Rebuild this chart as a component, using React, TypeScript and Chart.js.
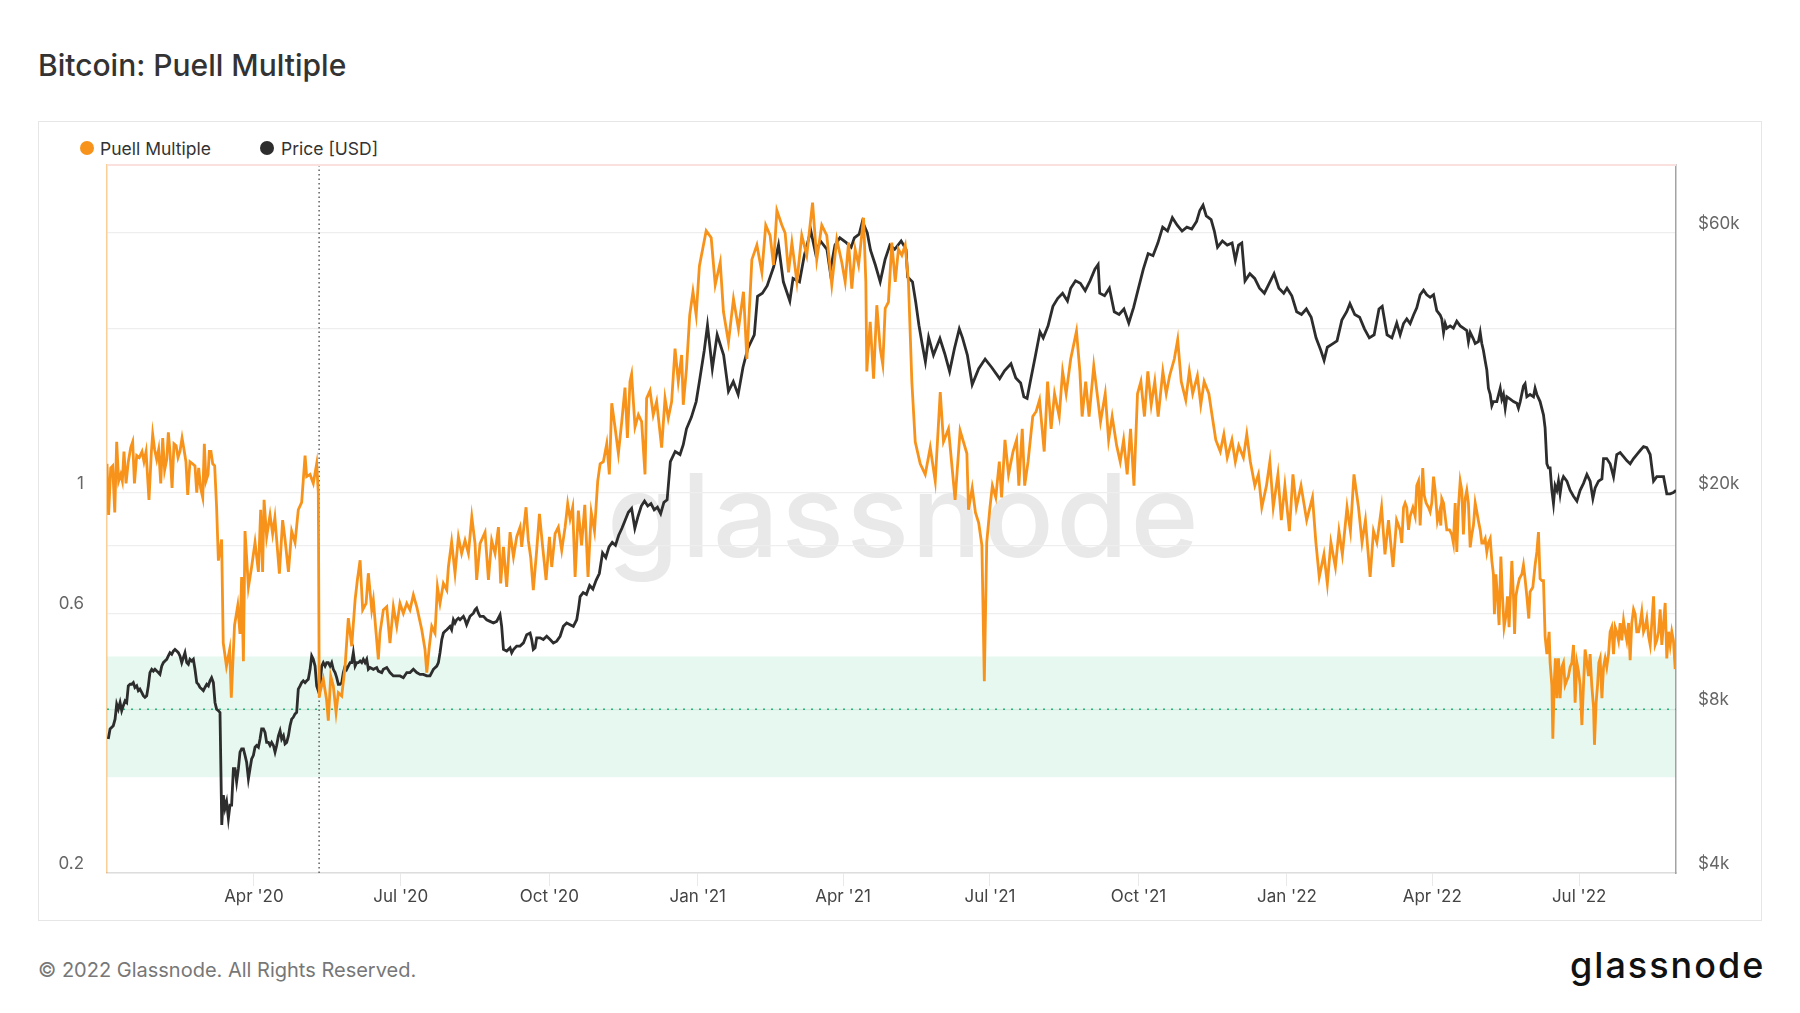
import React, { useEffect, useRef } from "react";
import { Chart, registerables } from "chart.js";

Chart.register(...registerables);

// ---- axis / annotation values ----
const tickDays = [91, 182, 274, 366, 456, 547, 639, 731, 821, 912];
const tickLabels = ["Apr '20", "Jul '20", "Oct '20", "Jan '21", "Apr '21", "Jul '21", "Oct '21", "Jan '22", "Apr '22", "Jul '22"];
const puellGridTicks = [0.2, 0.4, 0.6, 0.8, 1, 2, 3];
const puellLabelledTicks = [0.2, 0.6, 1];
const priceTicks = [4000, 8000, 20000, 60000];
const halvingDay = 131.4; // 11 May 2020
const bandLow = 0.3;
const bandHigh = 0.5;
const bandMid = 0.4;
const lastDay = 972;

// ---- Puell Multiple: [days since 1 Jan 2020, value] ----
const puellSeries: [number, number][] = [
  [0, 1.13], [1, 0.91], [2.3, 1.11], [3.5, 1.12], [4.8, 0.92], [6, 1.24], [7.2, 1.05], [8.5, 1.08], [9.5, 1.05], [10.5, 1.19],
  [11.8, 1.04], [13.2, 1.14], [14.7, 1.21], [15.9, 1.24], [17, 1.04], [18.4, 1.17], [20, 1.16], [21.7, 1.19], [22.9, 1.14], [24.2, 1.19],
  [26, 0.97], [27.5, 1.19], [28.3, 1.28], [29.5, 1.2], [30.8, 1.15], [32, 1.2], [33.3, 1.04], [34.5, 1.26], [35.7, 1.1], [37, 1.15],
  [38, 1.29], [39, 1.19], [40.3, 1.02], [41.5, 1.23], [42.8, 1.22], [44, 1.16], [45.2, 1.19], [46.5, 1.26], [47.7, 1.2], [48.9, 1.14],
  [50, 0.99], [51.4, 1.14], [53, 1.13], [54.5, 1.12], [55.6, 1.0], [56.8, 1.11], [58, 1.02], [59.3, 0.98], [60.3, 1.23], [61.3, 1.05],
  [62.6, 1.08], [63.4, 1.19], [64.4, 1.19], [65.5, 1.13], [66.7, 1.12], [67.9, 0.94],
  [69, 0.75], [71, 0.82], [72, 0.53], [74, 0.48], [76, 0.515], [77, 0.42], [79, 0.57], [81, 0.62], [82.4, 0.55], [83.4, 0.7],
  [84.5, 0.49], [85.5, 0.85], [87.6, 0.67], [89.6, 0.73], [91.7, 0.81], [93.8, 0.715], [95.2, 0.93], [96.4, 0.715], [97.3, 0.97], [98.9, 0.83],
  [101, 0.91], [102.6, 0.84], [104, 0.9], [106.8, 0.71], [108.8, 0.89], [110.3, 0.82], [112.4, 0.715], [114.4, 0.85], [116.5, 0.81], [118.5, 0.93],
  [120.6, 0.96], [122.7, 1.17], [123.7, 1.07], [125.8, 1.08], [127.8, 1.04], [129.9, 1.13], [130.9, 1.0], [131.5, 0.42],
  [132, 0.43], [134, 0.454], [136, 0.417], [137.1, 0.381], [138.6, 0.46], [140.2, 0.441], [141.9, 0.395], [143.3, 0.429], [145.4, 0.423], [147.5, 0.48],
  [149.5, 0.588], [151.6, 0.522], [153.7, 0.635], [155.1, 0.691], [156.8, 0.751], [158.4, 0.609], [160.5, 0.626], [161.9, 0.711], [164, 0.609], [165, 0.635],
  [166.7, 0.552], [168.1, 0.494], [169.1, 0.552], [171.2, 0.609], [173.3, 0.617], [175.3, 0.529], [177.4, 0.617], [179.5, 0.568], [181.5, 0.626], [183.6, 0.6],
  [185.7, 0.626], [187.7, 0.609], [189.8, 0.649], [191.9, 0.617], [195, 0.56], [197, 0.515], [198.1, 0.467], [199.7, 0.522], [201.2, 0.568], [203.2, 0.552],
  [204.7, 0.671], [206.3, 0.626], [208.4, 0.681], [210.5, 0.662], [211.5, 0.73], [213.5, 0.812], [215.6, 0.711], [217.7, 0.829], [219.7, 0.773], [221.8, 0.817],
  [223.9, 0.773], [226, 0.902], [228, 0.806], [229, 0.691], [231.1, 0.806], [234.2, 0.846], [236.3, 0.691], [238.3, 0.817], [240.4, 0.773], [242.5, 0.864],
  [243.9, 0.681], [245.6, 0.795], [247.6, 0.671], [249.7, 0.846], [251.8, 0.762], [253.8, 0.829], [255.9, 0.864], [256.9, 0.795], [259.6, 0.94], [261, 0.817],
  [262.5, 0.76], [264.1, 0.662], [266.2, 0.784], [267.9, 0.914], [269.9, 0.795], [272, 0.691], [274.1, 0.829], [275.5, 0.73], [277.6, 0.841], [279.6, 0.864],
  [281.7, 0.784], [283.8, 0.864], [285.4, 0.954], [286.9, 0.895], [288.5, 0.94], [290, 0.7], [292, 0.927],
  [294, 0.8], [296, 0.95], [298, 0.7], [300, 0.92], [302, 0.85], [304, 1.05], [305.5, 1.13], [307.5, 1.14], [309.6, 1.23], [311.2, 1.08],
  [312.7, 1.46], [314.7, 1.32], [316.8, 1.18], [318.9, 1.35], [320.9, 1.56], [322.4, 1.26], [324, 1.6], [325, 1.65], [327.1, 1.32], [329.2, 1.39],
  [331.2, 1.35], [333.3, 1.08], [334.3, 1.49], [336.4, 1.54], [338.4, 1.39], [340.5, 1.47], [343.6, 1.21], [345.7, 1.49], [347.7, 1.37], [349.8, 1.47],
  [351.9, 1.84], [353.9, 1.6], [356, 1.79], [357, 1.45], [359, 1.69], [361, 2.12], [363, 2.34], [365, 2.12], [367, 2.61],
  [371.2, 3.03], [374.3, 2.94], [376.8, 2.41], [379.9, 2.65], [381.9, 2.15], [385, 1.89], [388.1, 2.27], [391.2, 2.0], [394.3, 2.34], [396.4, 1.76],
  [399.5, 2.68], [402.6, 2.85], [405.7, 2.54], [408.1, 3.1], [410.8, 2.97], [412.9, 2.62], [415, 3.3], [418.1, 3.1], [420.1, 3.0], [422.2, 2.54],
  [424.3, 2.88], [427.4, 2.44], [430.4, 2.97], [433.5, 2.73], [437.1, 3.41], [439.7, 2.68], [442.8, 3.1], [445.9, 2.97], [449, 2.41], [452.1, 2.92],
  [455.2, 2.65], [457.3, 2.44], [459.4, 2.88], [461.4, 2.37], [463.5, 2.8], [465.6, 2.62], [468.7, 3.2], [470.1, 2.44], [470.7, 1.67], [472.8, 2.06],
  [474.9, 1.62], [476.9, 2.21], [479, 1.84], [480.6, 1.72], [482.1, 2.18], [484.1, 2.24], [486.2, 2.88], [488.3, 2.44], [490.3, 2.8], [492.4, 2.73],
  [494.5, 2.85], [496.5, 2.44], [498.6, 1.6], [500.7, 1.24], [503.8, 1.13], [506.9, 1.08], [510, 1.21], [513.1, 1.05], [516.2, 1.53], [518.2, 1.24],
  [521.3, 1.31], [525.4, 0.97], [528.5, 1.3], [532.7, 1.18], [533.7, 0.93], [536, 1.02], [538, 0.92], [540, 0.88], [542, 0.8], [543.5, 0.45],
  [545, 0.81], [547, 0.94], [548.5, 1.03], [550.6, 0.98],
  [552.8, 1.14], [554.2, 0.98], [556.3, 1.25], [558.5, 1.08], [561.3, 1.19], [563.5, 1.25], [564.9, 1.03], [567, 1.31], [568.5, 1.03], [570.6, 1.14],
  [573.5, 1.38], [575.6, 1.41], [577.7, 1.48], [580.6, 1.19], [582.7, 1.6], [584.9, 1.31], [587, 1.52], [589.9, 1.38], [592, 1.67], [594.2, 1.52],
  [597, 1.76], [600.6, 1.98], [602.7, 1.67], [604.1, 1.38], [606.3, 1.6], [608.4, 1.38], [611.3, 1.71], [613.4, 1.52], [615.5, 1.35], [618.4, 1.52],
  [620.5, 1.25], [622.7, 1.38], [625.5, 1.22], [627.7, 1.14], [629.8, 1.25], [632, 1.08], [634.1, 1.31], [636.2, 1.03], [638.4, 1.52], [640.5, 1.6],
  [642.7, 1.38], [644.8, 1.67], [646.9, 1.45], [649.1, 1.6], [651.2, 1.38], [654.1, 1.67], [656.2, 1.52], [658.3, 1.64], [661.2, 1.76], [663.3, 1.91],
  [665.5, 1.6], [668.3, 1.48], [670.5, 1.67], [672.6, 1.52], [675.5, 1.64], [677.6, 1.45], [679.7, 1.6], [682.6, 1.52], [684.7, 1.38], [686.9, 1.25],
  [689.7, 1.19], [691.9, 1.28], [694, 1.16], [696.9, 1.25], [699, 1.14], [701.1, 1.22], [704, 1.16], [706.1, 1.28], [708.3, 1.14], [711.1, 1.03],
  [713.3, 1.08], [715.4, 0.94], [718.3, 1.03], [720.4, 1.14], [722.5, 0.94], [725.4, 1.08], [727.5, 0.89], [729.7, 1.03], [732.5, 0.85], [734.7, 1.08],
  [736.8, 0.94], [739.7, 1.03], [743.2, 0.89], [746.8, 0.98], [748.9, 0.81], [751, 0.7], [753.9, 0.77], [756, 0.68], [758.2, 0.81], [761, 0.73],
  [763.2, 0.85], [765.3, 0.77], [768.2, 0.94], [770.3, 0.85], [772.5, 1.08], [775.3, 0.94], [777.5, 0.81], [779.6, 0.89], [782.5, 0.7], [784.6, 0.85],
  [786.7, 0.81], [789.6, 0.94], [791.7, 0.77], [793.9, 0.89], [796.7, 0.73], [798.9, 0.89],
  [801.1, 0.854], [802.1, 0.808], [803.2, 0.939], [804.2, 0.957], [805.2, 0.939], [806.3, 0.854], [807.3, 0.905], [809, 0.939], [810.4, 0.905], [811.4, 1.03],
  [812.5, 1.05], [813.5, 0.87], [814.5, 1.01], [815.1, 1.11], [816, 0.99], [817.2, 0.957], [818.7, 0.939], [819.7, 0.922], [820.7, 0.957], [821.8, 1.07],
  [822.8, 1.01], [824.2, 0.887], [825.5, 0.922], [826.3, 0.87], [826.9, 0.975], [828, 0.957], [830, 0.854], [831.7, 0.854], [833.1, 0.838], [834.1, 0.808],
  [835.2, 0.957], [836.2, 0.778], [837.2, 0.939], [838.3, 1.05], [839.3, 1.01], [840.3, 0.838], [841.4, 0.975], [842.4, 1.01], [843.4, 0.957], [844.5, 0.793],
  [845.5, 0.838], [846.5, 0.87], [847.6, 0.957], [848.6, 0.922], [849.6, 0.887], [850.7, 0.854], [851.7, 0.808], [852.7, 0.808], [853.8, 0.823], [854.8, 0.778],
  [855.8, 0.808], [856.9, 0.823], [857.9, 0.75], [858.9, 0.708], [859.5, 0.598], [860.4, 0.708], [861.4, 0.645], [862.4, 0.571], [863.5, 0.763], [864.5, 0.645],
  [865.5, 0.566], [866.8, 0.598], [867.6, 0.645], [868.6, 0.566], [870.3, 0.749], [871.3, 0.645], [872, 0.55], [872.8, 0.645], [873.8, 0.67], [875, 0.695],
  [876.5, 0.708], [877.5, 0.736], [878.5, 0.695], [879.6, 0.645], [880.8, 0.587], [881.6, 0.657], [883.3, 0.67], [884.7, 0.736], [885.8, 0.778], [886.8, 0.846],
  [887.8, 0.695], [888.9, 0.689], [889.9, 0.689], [890.9, 0.545], [892, 0.505], [893.4, 0.555], [894, 0.487], [895.1, 0.443], [895.7, 0.353], [896.5, 0.443],
  [897.3, 0.496], [898.2, 0.419], [899.2, 0.496], [900.2, 0.419], [901.3, 0.478], [902.3, 0.487], [903.3, 0.443], [904.4, 0.452], [905.4, 0.46], [906.4, 0.478],
  [907.5, 0.487], [908.5, 0.525], [909.5, 0.411], [910.6, 0.487], [911.6, 0.469], [912.6, 0.443], [913.7, 0.374], [914.7, 0.443], [915.7, 0.515], [916.8, 0.487],
  [917.8, 0.46], [918.8, 0.505], [919.8, 0.443], [920.9, 0.404], [921.5, 0.344], [922.5, 0.411], [923.4, 0.443], [924.2, 0.487], [925, 0.496], [926.1, 0.419],
  [927.1, 0.478], [928.1, 0.496], [929.1, 0.478], [930.2, 0.505], [931.2, 0.555], [932.2, 0.566], [933.3, 0.505], [934.3, 0.566], [935.3, 0.555], [936.4, 0.535],
  [937.4, 0.576], [938.4, 0.535], [939.5, 0.582], [940.5, 0.555], [941.5, 0.535], [942.6, 0.576], [943.6, 0.492], [944.6, 0.576], [945.7, 0.61], [946.7, 0.598],
  [947.7, 0.555], [948.8, 0.555], [949.8, 0.576], [950.8, 0.604], [951.9, 0.555], [952.9, 0.566], [953.9, 0.587], [955, 0.545], [956, 0.525], [957, 0.576],
  [958.1, 0.645], [959.1, 0.525], [960.1, 0.535], [961.2, 0.555], [962.2, 0.61], [963.2, 0.525], [964.3, 0.576], [965.3, 0.627], [966.3, 0.496], [967.4, 0.555],
  [968.4, 0.525], [969.4, 0.555], [970.4, 0.535], [971.5, 0.474],
];

// ---- BTC price in thousand USD: [days since 1 Jan 2020, price k$] ----
const priceSeriesK: [number, number][] = [
  [0.8, 7.05], [1.9, 7.36], [3.9, 7.46], [5, 7.67], [6, 8.17], [7, 8.0], [8.1, 8.23], [9.1, 7.95], [10.1, 8.12], [11.2, 8.29],
  [12.2, 8.23], [13.2, 8.83], [14.3, 8.89], [15.3, 8.89], [16.3, 8.95], [17.3, 8.77], [18.4, 8.83], [19.4, 8.65], [20.4, 8.71], [21.5, 8.59],
  [22.5, 8.47], [23.5, 8.41], [24.6, 8.47], [25.6, 8.83], [26.6, 9.34], [27.7, 9.47], [28.7, 9.4], [29.7, 9.47], [30.8, 9.4], [31.8, 9.34],
  [32.8, 9.27], [33.9, 9.6], [34.9, 9.74], [35.9, 9.81], [37, 9.88], [38, 10.02], [39, 10.16], [40.1, 10.09], [41.1, 10.23], [42.1, 10.3],
  [43.2, 10.23], [44.2, 10.16], [45.2, 10.02], [46.3, 9.74], [47.3, 9.95], [48.3, 10.16], [49.4, 9.74], [50.4, 9.67], [51.4, 9.88], [52.5, 9.81],
  [53.5, 9.88], [54.5, 9.47], [55.6, 8.95], [56.6, 8.89], [57.6, 8.77], [58.7, 8.71], [59.7, 8.65], [60.7, 8.77], [61.8, 8.89], [62.8, 8.83],
  [63.8, 9.02], [64.8, 9.14], [65.9, 8.95], [66.9, 8.23], [67.9, 8.0], [69, 7.95], [70, 7.89], [71.1, 4.9], [72.1, 5.56], [73.1, 5.26],
  [74.1, 5.41], [75.2, 5.04], [76.2, 5.33], [77.2, 5.33], [78.3, 6.22], [79.3, 6.22], [80.3, 5.88], [81.4, 6.22], [82.4, 6.67], [83.4, 6.76],
  [84.5, 6.76], [85.5, 6.58], [86.5, 6.39], [87.6, 5.96], [88.6, 6.22], [89.6, 6.48], [90.7, 6.58], [91.7, 6.81], [92.7, 6.86], [93.8, 6.81],
  [94.8, 7.05], [95.8, 7.36], [96.9, 7.36], [97.9, 7.25], [98.9, 6.95], [100, 6.95], [101, 6.86], [102, 6.95], [103.1, 6.86], [104.1, 6.67],
  [105.1, 6.86], [106.2, 7.15], [107.2, 7.3], [108.2, 7.05], [109.3, 7.15], [110.3, 6.91], [111.3, 6.95], [112.4, 7.15], [113.4, 7.46], [114.4, 7.67],
  [115.4, 7.73], [116.5, 7.84], [117.5, 7.89], [118.5, 8.71], [119.6, 8.83], [120.6, 8.95], [121.6, 9.02], [122.7, 8.95], [123.7, 9.02], [124.7, 9.08],
  [125.8, 9.47], [126.8, 10.02], [127.8, 9.88], [128.9, 9.6], [129.9, 8.83], [130.9, 8.65], [132, 8.83], [133, 9.6], [134, 9.74], [135.1, 9.6],
  [136.1, 9.74], [137.1, 9.74], [138.2, 9.6], [139.2, 9.74], [140.2, 9.47], [141.3, 9.34], [142.3, 9.14], [143.3, 8.89], [144.4, 8.89], [145.4, 8.95],
  [146.4, 9.34], [147.5, 9.6], [148.5, 9.47], [149.5, 9.6], [150.6, 9.74], [151.6, 9.74], [152.6, 10.16], [153.7, 9.6], [154.7, 9.74], [155.7, 9.74],
  [156.8, 9.81], [157.8, 9.74], [158.8, 9.88], [159.9, 9.74], [160.9, 9.88], [161.9, 9.47], [162.9, 9.54], [165, 9.47], [167.1, 9.54], [168.1, 9.4],
  [170.2, 9.34], [171.2, 9.47], [173.3, 9.54], [175.3, 9.34], [177.4, 9.21], [179.5, 9.21], [181.5, 9.21], [183.6, 9.14], [185.7, 9.34], [187.7, 9.34],
  [189.8, 9.47], [191.9, 9.34], [193.9, 9.27], [196, 9.27], [198.1, 9.21], [200.1, 9.21], [202.2, 9.47], [204.3, 9.6], [205.3, 9.74], [206.3, 10.16],
  [207.4, 10.74], [208.4, 11.04], [209.4, 11.12], [210.5, 11.2], [212.5, 11.36], [213.5, 11.2], [214.6, 11.68], [215.6, 11.52], [216.6, 11.68], [217.7, 11.76],
  [218.7, 11.68], [220.8, 11.85], [221.8, 11.68], [222.8, 11.44], [224.9, 11.85], [227, 12.01], [228, 12.18], [229, 12.27], [230.1, 12.01], [231.1, 11.85],
  [233.2, 11.85], [235.2, 11.68], [237.3, 11.6], [239.4, 11.52], [241.4, 11.6], [243.5, 11.93], [244.5, 11.36], [245.6, 10.3], [247.6, 10.23], [249.7, 10.37],
  [250.7, 10.16], [251.8, 10.3], [253.8, 10.45], [255.9, 10.45], [258, 10.59], [260, 10.96], [262.1, 11.04], [263.1, 10.74], [264.1, 10.3], [265.2, 10.37],
  [266.2, 10.82], [268.3, 10.82], [270.3, 10.74], [272.4, 10.89], [274.5, 10.74], [276.5, 10.59], [278.6, 10.67], [280.7, 10.89], [282.7, 11.36], [284.8, 11.52],
  [286.9, 11.44], [288.9, 11.36], [291, 11.68], [292, 12.18], [293.1, 12.88],
  [295, 13.1], [297, 13.0], [299, 13.5], [301, 13.3], [303, 13.8], [305, 14.2], [307, 15.5], [309, 15.2], [311, 15.9], [313, 16.2],
  [315, 16.0], [317, 16.7], [319, 17.2], [321, 17.8], [323, 18.4], [325, 18.7], [327, 17.2], [329, 18.1], [331, 18.9], [333, 19.3],
  [335, 18.9], [337, 19.1], [339, 18.6], [341, 18.8], [343, 18.3], [345, 19.2], [347, 19.4],
  [349, 22.8], [352, 23.8], [355, 23.5], [357, 24.5], [359, 26.2], [362, 27.5], [365, 29.4], [367, 32.0], [370, 36.5], [372, 40.6],
  [375, 33.8], [378, 39.0], [382, 35.8], [385, 30.7], [388, 32.0], [391, 30.3], [394, 34.0], [397, 36.8], [401, 39.0], [403, 45.9],
  [406, 46.5], [409, 48.0], [413, 52.0], [416, 57.0], [419, 48.8], [423, 45.0], [425, 49.5], [429, 48.8], [432, 54.6], [436, 60.6],
  [439, 55.0], [442, 58.0], [446, 56.0], [448, 51.0], [451, 57.0], [454, 58.8], [458, 57.6], [461, 56.5], [463, 58.8], [466, 59.7],
  [468, 63.0], [471, 60.0], [473, 55.8], [476, 52.4], [479, 48.8], [482, 53.6], [485, 57.0], [488, 56.0], [492, 58.0], [495, 56.0],
  [496, 49.8], [499, 48.8], [501, 44.8], [503, 40.6], [505, 37.5], [507, 34.8], [509, 38.6], [512, 35.8], [516, 38.4], [519, 36.0],
  [522, 33.4], [525, 36.8], [528, 40.0], [530, 38.5], [533, 35.8], [536, 31.6], [540, 33.8], [544, 35.2], [548, 34.0], [553, 32.4],
  [556, 33.5], [560, 34.5], [563, 32.5], [566, 31.8], [568, 30.0], [570, 29.8], [572, 32.0], [575, 35.5], [578, 39.5], [580, 38.5],
  [583, 40.5], [586, 44.0], [589, 45.5], [592, 46.5], [595, 45.0], [597, 47.5], [600, 49.0], [603, 48.5], [606, 47.0], [609, 49.0],
  [612, 51.5], [614, 52.5], [615, 46.5], [618, 46.0], [621, 47.5], [624, 43.0], [627, 42.5], [630, 43.5], [633, 41.0], [636, 43.8],
  [639, 47.5], [642, 51.5], [645, 55.0], [648, 54.5], [651, 57.5], [654, 61.5], [657, 60.5], [660, 64.0], [663, 62.0], [666, 60.5],
  [669, 61.5], [672, 61.0], [675, 63.0], [677, 66.0], [679, 67.5], [681, 64.5], [684, 63.5], [686, 60.5], [688, 56.5], [691, 58.0],
  [694, 57.0], [697, 57.5], [699, 53.5], [701, 57.0], [703, 57.5], [705, 49.0], [708, 50.5], [711, 49.5], [714, 47.5], [717, 46.5],
  [720, 48.5], [723, 50.5], [726, 47.5], [729, 46.5], [731, 47.5], [734, 46.0], [737, 43.0], [740, 42.5], [743, 43.5], [746, 42.0],
  [749, 38.5], [752, 36.5], [754, 35.0], [756, 37.0], [759, 37.5], [762, 38.0], [765, 41.5], [768, 43.0], [770, 44.5], [773, 42.5],
  [776, 42.0], [779, 40.0], [782, 38.5], [785, 39.0], [788, 43.5], [790, 44.0], [793, 39.0], [796, 38.5], [799, 41.0],
  [801.1, 39.0], [803.2, 40.9], [805.2, 41.7], [807.3, 40.9], [809.4, 42.4], [811.4, 43.7], [813.5, 46.2], [815.6, 47.1], [817.6, 46.2], [819.7, 45.7],
  [821.8, 46.2], [823.8, 43.2], [825.9, 42.4], [826.9, 41.7], [828, 39.4], [829, 40.9], [830, 40.1], [832.1, 40.5], [834.1, 40.1], [836.2, 41.3],
  [838.3, 40.5], [840.3, 40.1], [842.4, 39.7], [843.4, 37.9], [844.5, 39.4], [846.5, 38.3], [847.6, 37.6], [849.6, 37.9], [850.7, 39.4], [851.7, 37.6],
  [852.7, 36.5], [853.8, 34.9], [854.8, 33.6], [855.8, 31.1], [856.9, 30.3], [857.9, 28.9], [858.9, 29.4], [861, 29.4], [863.1, 31.1], [864.1, 29.7],
  [865.1, 30.3], [866.2, 28.6], [867.2, 30.0], [869.3, 29.7], [871.3, 29.4], [873.4, 29.2], [874.4, 28.6], [875.5, 29.4], [877.5, 31.4], [878.5, 31.7],
  [879.6, 30.0], [881.6, 30.3], [883.7, 30.0], [884.7, 31.1], [885.8, 30.3], [887.8, 29.4], [889.9, 27.8], [890.9, 26.3], [892, 22.6], [893, 22.2],
  [894, 22.2], [895.1, 20.2], [896.1, 19.1], [897.1, 20.6], [898.2, 20.2], [899.2, 21.0], [900.2, 19.9], [901.3, 21.0], [902.3, 21.4], [904.4, 21.0],
  [906.4, 20.2], [908.5, 19.7], [910.6, 19.3], [912.6, 20.2], [914.7, 20.8], [916.8, 21.6], [918.8, 21.0], [920.5, 19.5], [921.9, 20.4], [924, 21.0],
  [926.1, 21.2], [927.1, 23.1], [929.1, 23.1], [931.2, 22.6], [933.3, 21.4], [935.3, 23.5], [937.4, 23.7], [939.5, 23.3], [941.5, 22.9], [943.6, 22.6],
  [945.7, 23.1], [947.7, 23.5], [949.8, 23.9], [951.9, 24.3], [953.9, 24.2], [956, 23.5], [958.1, 21.0], [960.1, 21.4], [962.2, 21.4], [964.3, 21.4],
  [966.3, 19.9], [968.4, 19.9], [970.4, 20.0], [972, 20.2],
];

const ORANGE = "#f7931a";
const DARK = "#2d2d2d";
const FONT = "Inter, 'Noto Sans', sans-serif";

const overlayPlugin = {
  id: "puellOverlay",
  beforeDatasetsDraw(chart: any) {
    const { ctx, chartArea: a, scales } = chart;
    const y = scales.y;
    const x = scales.x;
    ctx.save();
    const yTop = y.getPixelForValue(bandHigh);
    const yBot = y.getPixelForValue(bandLow);
    ctx.fillStyle = "rgba(26, 188, 120, 0.11)";
    ctx.fillRect(a.left, yTop, a.right - a.left, yBot - yTop);

    const ym = y.getPixelForValue(bandMid);
    ctx.strokeStyle = "#27b57a";
    ctx.lineWidth = 1.6;
    ctx.setLineDash([2, 6]);
    ctx.beginPath();
    ctx.moveTo(a.left, ym);
    ctx.lineTo(a.right, ym);
    ctx.stroke();

    const xh = x.getPixelForValue(halvingDay);
    ctx.strokeStyle = "#555555";
    ctx.lineWidth = 1.4;
    ctx.setLineDash([1.5, 3]);
    ctx.beginPath();
    ctx.moveTo(xh, a.top);
    ctx.lineTo(xh, a.bottom);
    ctx.stroke();

    ctx.setLineDash([]);
    ctx.strokeStyle = "#fbe0e0";
    ctx.lineWidth = 2;
    ctx.beginPath();
    ctx.moveTo(a.left, a.top);
    ctx.lineTo(a.right, a.top);
    ctx.stroke();
    ctx.restore();
  },
};

function PuellChart() {
  const ref = useRef<HTMLCanvasElement | null>(null);
  useEffect(() => {
    if (!ref.current) return;
    const chart = new Chart(ref.current, {
      type: "line",
      data: {
        datasets: [
          {
            label: "Puell Multiple",
            data: puellSeries.map(([d, v]) => ({ x: d, y: v })),
            borderColor: ORANGE,
            backgroundColor: ORANGE,
            borderWidth: 2.8,
            pointRadius: 0,
            tension: 0,
            yAxisID: "y",
          },
          {
            label: "Price [USD]",
            data: priceSeriesK.map(([d, v]) => ({ x: d, y: v * 1000 })),
            borderColor: DARK,
            backgroundColor: DARK,
            borderWidth: 2.8,
            pointRadius: 0,
            tension: 0,
            yAxisID: "y1",
          },
        ],
      },
      options: {
        animation: false,
        responsive: false,
        devicePixelRatio: 1,
        layout: { padding: { top: 44, left: 0, right: 0, bottom: 0 } },
        plugins: { legend: { display: false }, tooltip: { enabled: false }, title: { display: false } },
        events: [],
        scales: {
          x: {
            type: "linear",
            min: 0,
            max: lastDay,
            afterBuildTicks: (s: any) => {
              s.ticks = tickDays.map((v) => ({ value: v }));
            },
            afterFit: (s: any) => {
              s.height = 48;
            },
            ticks: {
              autoSkip: false,
              maxRotation: 0,
              padding: 1,
              color: "#444444",
              font: { family: FONT, size: 17 },
              callback: (v: any) => {
                const i = tickDays.indexOf(Number(v));
                return i >= 0 ? tickLabels[i] : "";
              },
            },
            grid: { drawOnChartArea: false, drawTicks: true, tickLength: 13, color: "#e9e9e9" },
            border: { color: "#dddddd", width: 1.5 },
          },
          y: {
            type: "logarithmic",
            position: "left",
            min: 0.2,
            max: 4,
            afterBuildTicks: (s: any) => {
              s.ticks = puellGridTicks.map((v) => ({ value: v }));
            },
            afterFit: (s: any) => {
              s.width = 69;
            },
            ticks: {
              padding: 23,
              labelOffset: -9,
              color: "#666666",
              font: { family: FONT, size: 17 },
              callback: (v: any) => (puellLabelledTicks.includes(Number(v)) ? String(v) : ""),
            },
            grid: { color: "#eeeeee", drawTicks: false, lineWidth: 1.2 },
            border: { color: "rgba(247,147,26,0.45)", width: 1.5 },
          },
          y1: {
            type: "logarithmic",
            position: "right",
            min: 4000,
            max: 80000,
            afterBuildTicks: (s: any) => {
              s.ticks = priceTicks.map((v) => ({ value: v }));
            },
            afterFit: (s: any) => {
              s.width = 86;
            },
            ticks: {
              padding: 22,
              labelOffset: -9,
              color: "#666666",
              font: { family: FONT, size: 17 },
              callback: (v: any) => "$" + Number(v) / 1000 + "k",
            },
            grid: { drawOnChartArea: false, drawTicks: false },
            border: { color: "#a3a3a3", width: 1.5 },
          },
        },
      },
      plugins: [overlayPlugin],
    } as any);
    return () => chart.destroy();
  }, []);
  return <canvas ref={ref} width={1724} height={800} style={{ position: "absolute", left: 38, top: 121, width: 1724, height: 800, zIndex: 2 }} />;
}

export default function App() {
  const txt: React.CSSProperties = { position: "absolute", fontFamily: FONT, lineHeight: 1, whiteSpace: "nowrap", margin: 0 };
  return (
    <div style={{ position: "absolute", left: 0, top: 0, width: 1800, height: 1013, background: "#ffffff", overflow: "hidden" }}>
      <div style={{ ...txt, left: 38, top: 50, fontSize: 30, fontWeight: 500, color: "#333333" }}>Bitcoin: Puell Multiple</div>
      <div style={{ position: "absolute", left: 38, top: 121, width: 1724, height: 800, border: "1.5px solid #e6e6e6", boxSizing: "border-box" }} />
      <div style={{ ...txt, left: 607, top: 457, fontSize: 116, fontWeight: 500, color: "#e9e9e9", letterSpacing: 2.5, zIndex: 1 }}>glassnode</div>
      <div style={{ position: "absolute", left: 80, top: 141, width: 14, height: 14, borderRadius: 7, background: ORANGE }} />
      <div style={{ ...txt, left: 100, top: 140, fontSize: 17.5, color: "#333333" }}>Puell Multiple</div>
      <div style={{ position: "absolute", left: 260, top: 141, width: 14, height: 14, borderRadius: 7, background: DARK }} />
      <div style={{ ...txt, left: 281, top: 140, fontSize: 17.5, color: "#333333" }}>Price [USD]</div>
      <PuellChart />
      <div style={{ ...txt, left: 38, top: 960, fontSize: 20, color: "#777777" }}>© 2022 Glassnode. All Rights Reserved.</div>
      <div style={{ ...txt, left: 1570, top: 947, fontSize: 36, fontWeight: 500, color: "#111111", letterSpacing: 2 }}>glassnode</div>
    </div>
  );
}
